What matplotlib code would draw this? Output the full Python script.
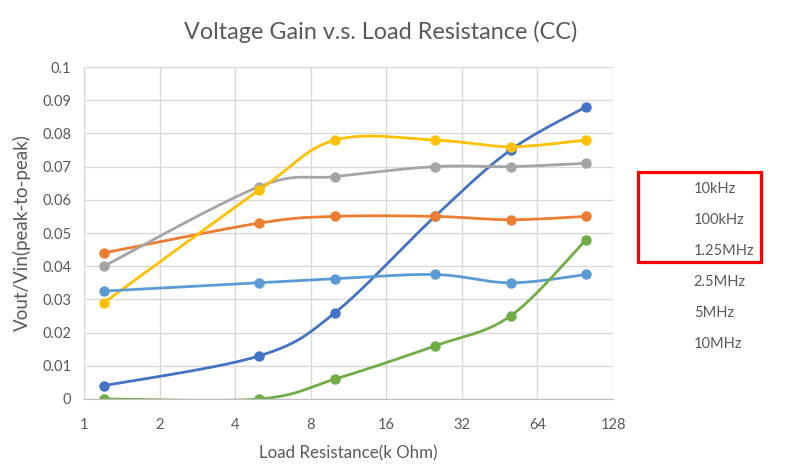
import numpy as np
import matplotlib.pyplot as plt
from matplotlib.patches import Rectangle

plt.rcParams['font.family'] = ['Lato', 'DejaVu Sans']

load_k = [1.2, 5, 10, 25, 50, 100]
labels = ['10kHz', '100kHz', '1.25MHz', '2.5MHz', '5MHz', '10MHz']
gain_10k = [0.004, 0.013, 0.026, 0.055, 0.075, 0.088]
gain_100k = [0.044, 0.053, 0.055, 0.055, 0.054, 0.055]
gain_1p25m = [0.040, 0.064, 0.067, 0.070, 0.070, 0.071]
gain_2p5m = [0.029, 0.063, 0.078, 0.078, 0.076, 0.078]
gain_5m = [0.0325, 0.035, 0.0362, 0.0375, 0.035, 0.0375]
gain_10m = [0.0, 0.0, 0.006, 0.016, 0.025, 0.048]
colors = ['#4472C4', '#ED7D31', '#A5A5A5', '#FFC000', '#5B9BD5', '#70AD47']
series = [gain_10k, gain_100k, gain_1p25m, gain_2p5m, gain_5m, gain_10m]

def smooth(xs, ys, n=40):
  # excel-like smoothed line, computed in screen-ish space (log2 x, scaled y)
  u = np.log2(xs) * 75.4
  v = np.array(ys) * 3320.0
  P = np.column_stack([u, v])
  P = np.vstack([P[0], P, P[-1]])
  out = []
  t = np.linspace(0, 1, n)[:, None]
  for i in range(1, len(P) - 2):
    p0, p1, p2, p3 = P[i - 1], P[i], P[i + 1], P[i + 2]
    b1 = p1 + (p2 - p0) / 6.0
    b2 = p2 - (p3 - p1) / 6.0
    seg = (1-t)**3*p1 + 3*(1-t)**2*t*b1 + 3*(1-t)*t**2*b2 + t**3*p2
    out.append(seg)
  out = np.vstack(out)
  return 2 ** (out[:, 0] / 75.4), out[:, 1] / 3320.0

fig = plt.figure(figsize=(8.03, 4.76), dpi=100)
ax = fig.add_axes([0.1046, 0.1618, 0.6588, 0.6974])

for ys, c, lab in zip(series, colors, labels):
  sx, sy = smooth(load_k, ys)
  ax.plot(sx, sy, color=c, lw=2.0, solid_capstyle='round', label=lab)
  ax.plot(load_k, ys, 'o', color=c, ms=6.5)

ax.set_xscale('log', base=2)
ax.set_xlim(1, 128)
ax.set_ylim(0, 0.1)
ax.set_xticks([1, 2, 4, 8, 16, 32, 64, 128])
ax.set_xticklabels(['1', '2', '4', '8', '16', '32', '64', '128'])
ax.set_yticks(np.arange(0, 0.101, 0.01))
ax.set_yticklabels(['0'] + ['%g' % v for v in np.round(np.arange(0.01, 0.101, 0.01), 2)])
ax.minorticks_off()
ax.grid(True, color='#D9D9D9', lw=1.0)
ax.set_axisbelow(True)
for s in ['top', 'right', 'left']:
  ax.spines[s].set_visible(False)
ax.spines['bottom'].set_color('#BFBFBF')
ax.tick_params(length=0, colors='#595959', labelsize=10.5)
ax.tick_params(axis='x', pad=14)
ax.tick_params(axis='y', pad=9)

ax.set_xlabel('Load Resistance(k Ohm)', color='#595959', fontsize=12.2, labelpad=9)
ax.set_ylabel('Vout/Vin(peak-to-peak)', color='#595959', fontsize=13.5, labelpad=8)
fig.text(0.474, 0.933, 'Voltage Gain v.s. Load Resistance (CC)', ha='center', va='center',
         color='#595959', fontsize=16.8)

leg = ax.legend(loc='upper left', bbox_to_anchor=(0.864, 0.6176), bbox_transform=fig.transFigure,
                frameon=False, handlelength=0, handletextpad=0, labelspacing=1.16,
                fontsize=10.5, labelcolor='#595959', borderaxespad=0, borderpad=0)
for h in leg.legend_handles:
  h.set_visible(False)

fig.add_artist(Rectangle((638/803, 1-262/476), 123/803, 90/476, transform=fig.transFigure,
                         fill=False, edgecolor='#FF0000', lw=2.3))

fig.savefig('out.png', dpi=100)
